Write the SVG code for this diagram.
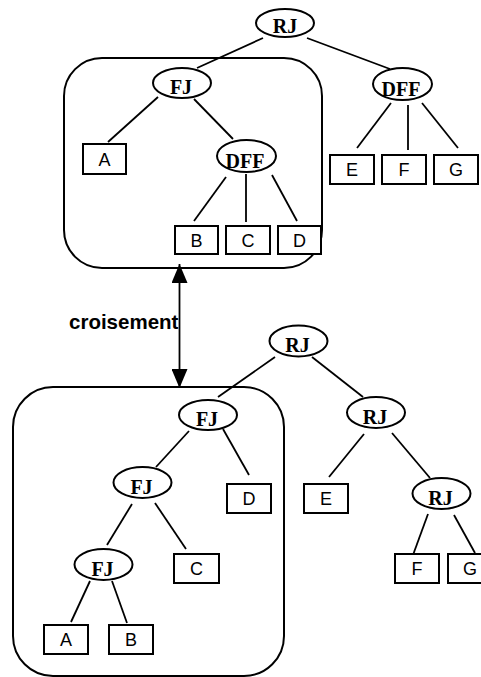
<svg xmlns="http://www.w3.org/2000/svg" width="481" height="677" viewBox="0 0 481 677">
  <style>
    .frame { fill: none; stroke: #000; stroke-width: 2; }
    .op ellipse { fill: #fff; stroke: #000; stroke-width: 2; }
    .op text { font-family: "Liberation Serif", "Times New Roman", serif; font-weight: bold; font-size: 20px; text-anchor: middle; fill: #000; }
    .leaf rect { fill: #fff; stroke: #000; stroke-width: 2; }
    .leaf text { font-family: "Liberation Sans", Arial, sans-serif; font-size: 18px; text-anchor: middle; fill: #000; }
    .edge { stroke: #000; stroke-width: 1.8; fill: none; }
    .label { font-family: "Liberation Sans", Arial, sans-serif; font-weight: bold; font-size: 20.5px; fill: #000; }
  </style>
  <defs>
    <marker id="head" markerUnits="userSpaceOnUse" markerWidth="20" markerHeight="16" viewBox="0 0 20 16" refX="19" refY="8" orient="auto-start-reverse">
      <path d="M0,0 L19,8 L0,16 Z" fill="#000"/>
    </marker>
  </defs>
  <rect width="481" height="677" fill="#fff"/>

  <!-- subtree frames -->
  <g id="frame-top"><rect class="frame" x="64" y="58" width="258" height="210" rx="38" ry="38"/></g>
  <g id="frame-bottom"><rect class="frame" x="13" y="387" width="271" height="289" rx="40" ry="40"/></g>

  <!-- connectors -->
  <g id="connectors">
    <line class="edge" x1="263" y1="38" x2="197" y2="68"/>
    <line class="edge" x1="307" y1="38" x2="390" y2="69"/>
    <line class="edge" x1="158" y1="97" x2="108" y2="142"/>
    <line class="edge" x1="194" y1="99" x2="233" y2="139"/>
    <line class="edge" x1="226" y1="177" x2="194" y2="221"/>
    <line class="edge" x1="246" y1="174" x2="246" y2="222"/>
    <line class="edge" x1="272" y1="175" x2="297" y2="221"/>
    <line class="edge" x1="391" y1="103" x2="357" y2="148"/>
    <line class="edge" x1="408" y1="105" x2="408" y2="150"/>
    <line class="edge" x1="422" y1="103" x2="458" y2="148"/>

    <line class="edge" x1="275" y1="357" x2="218" y2="397"/>
    <line class="edge" x1="312" y1="357" x2="363" y2="397"/>
    <line class="edge" x1="189" y1="431" x2="156" y2="467"/>
    <line class="edge" x1="223" y1="429" x2="249" y2="475"/>
    <line class="edge" x1="364" y1="434" x2="329" y2="477"/>
    <line class="edge" x1="392" y1="433" x2="430" y2="478"/>
    <line class="edge" x1="132" y1="504" x2="107" y2="545"/>
    <line class="edge" x1="155" y1="503" x2="186" y2="549"/>
    <line class="edge" x1="428" y1="514" x2="413" y2="555"/>
    <line class="edge" x1="454" y1="515" x2="475" y2="553"/>
    <line class="edge" x1="90" y1="581" x2="71" y2="622"/>
    <line class="edge" x1="112" y1="581" x2="127" y2="623"/>

    <!-- crossover arrow -->
    <line class="edge" x1="179.5" y1="264" x2="179.5" y2="388" stroke-width="2" marker-start="url(#head)" marker-end="url(#head)"/>
  </g>

  <text class="label" x="69" y="329">croisement</text>

  <!-- upper tree -->
  <g id="rj1" class="op"><ellipse cx="285" cy="23" rx="29" ry="14"/><text x="285" y="33">RJ</text></g>
  <g id="fj1" class="op"><ellipse cx="182" cy="83" rx="29" ry="15"/><text x="181" y="94">FJ</text></g>
  <g id="dff1" class="op"><ellipse cx="246.5" cy="156" rx="29.5" ry="16"/><text x="245" y="168">DFF</text></g>
  <g id="dff2" class="op"><ellipse cx="402.5" cy="84" rx="29.5" ry="16"/><text x="401" y="96">DFF</text></g>
  <g id="a1" class="leaf"><rect x="83" y="144" width="43" height="30"/><text x="104.5" y="165.5">A</text></g>
  <g id="b1" class="leaf"><rect x="175" y="226" width="43" height="28"/><text x="196.5" y="246.5">B</text></g>
  <g id="c1" class="leaf"><rect x="226" y="226" width="44" height="28"/><text x="248" y="246.5">C</text></g>
  <g id="d1" class="leaf"><rect x="278" y="226" width="43" height="28"/><text x="299.5" y="246.5">D</text></g>
  <g id="e1" class="leaf"><rect x="330" y="155" width="44" height="29"/><text x="352" y="176">E</text></g>
  <g id="f1" class="leaf"><rect x="382" y="155" width="44" height="29"/><text x="404" y="176">F</text></g>
  <g id="g1" class="leaf"><rect x="434" y="155" width="44" height="29"/><text x="456" y="176">G</text></g>

  <!-- lower tree -->
  <g id="rj2" class="op"><ellipse cx="298.5" cy="341" rx="29" ry="15.5"/><text x="297.5" y="352">RJ</text></g>
  <g id="fj2" class="op"><ellipse cx="208" cy="415" rx="29" ry="15"/><text x="207" y="426">FJ</text></g>
  <g id="rj3" class="op"><ellipse cx="376" cy="412.5" rx="29" ry="15.5"/><text x="375" y="423.5">RJ</text></g>
  <g id="fj3" class="op"><ellipse cx="142.5" cy="482.5" rx="29" ry="15.5"/><text x="141.5" y="493.5">FJ</text></g>
  <g id="rj4" class="op"><ellipse cx="441.5" cy="493.5" rx="29" ry="15.5"/><text x="440.5" y="504.5">RJ</text></g>
  <g id="fj4" class="op"><ellipse cx="103.5" cy="564.5" rx="29" ry="15.5"/><text x="102.5" y="575.5">FJ</text></g>
  <g id="d2" class="leaf"><rect x="227" y="484" width="44" height="29"/><text x="249" y="505">D</text></g>
  <g id="e2" class="leaf"><rect x="304" y="484" width="44" height="29"/><text x="326" y="505">E</text></g>
  <g id="c2" class="leaf"><rect x="174" y="554" width="45" height="29"/><text x="196.5" y="575">C</text></g>
  <g id="f2" class="leaf"><rect x="395" y="554" width="44" height="29"/><text x="417" y="575">F</text></g>
  <g id="g2" class="leaf"><rect x="448" y="554" width="44" height="29"/><text x="470" y="575">G</text></g>
  <g id="a2" class="leaf"><rect x="44" y="625" width="44" height="29"/><text x="66" y="646">A</text></g>
  <g id="b2" class="leaf"><rect x="109" y="625" width="44" height="29"/><text x="131" y="646">B</text></g>
</svg>
